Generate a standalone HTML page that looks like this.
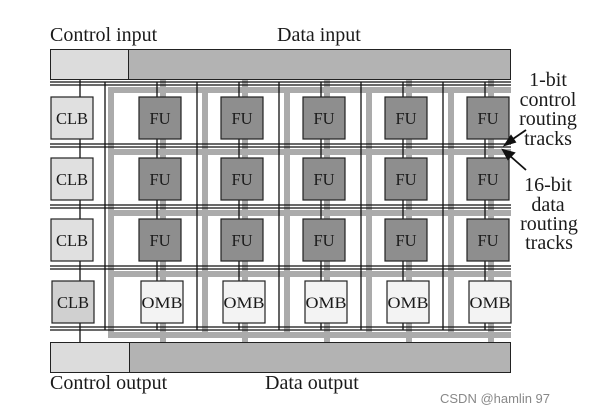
<!DOCTYPE html>
<html><head><style>body{margin:0;background:#fff}svg{display:block}text{font-family:"Liberation Serif",serif;fill:#1a1a1a}</style></head>
<body>
<svg width="600" height="414" viewBox="0 0 600 414">
<g fill="#ababab">
<rect x="108" y="87" width="403" height="6"/><rect x="108" y="149" width="403" height="6"/><rect x="108" y="210" width="403" height="6"/><rect x="108" y="271" width="403" height="6"/><rect x="108" y="332" width="403" height="6"/>
<rect x="108" y="87" width="6" height="251"/><rect x="202" y="87" width="6" height="251"/><rect x="284" y="87" width="6" height="251"/><rect x="366" y="87" width="6" height="251"/><rect x="448" y="87" width="6" height="251"/>
<rect x="160" y="79" width="6" height="264"/><rect x="242" y="79" width="6" height="264"/><rect x="324" y="79" width="6" height="264"/><rect x="406" y="79" width="6" height="264"/><rect x="488" y="79" width="6" height="264"/>
</g>
<g stroke="#111" stroke-width="1.3">
<line x1="50" y1="82" x2="511" y2="82"/><line x1="50" y1="85" x2="511" y2="85"/>
<line x1="50" y1="144" x2="511" y2="144"/><line x1="50" y1="147" x2="511" y2="147"/>
<line x1="50" y1="205" x2="511" y2="205"/><line x1="50" y1="208" x2="511" y2="208"/>
<line x1="50" y1="266" x2="511" y2="266"/><line x1="50" y1="269" x2="511" y2="269"/>
<line x1="50" y1="327" x2="511" y2="327"/><line x1="50" y1="330" x2="511" y2="330"/>
<line x1="105" y1="82" x2="105" y2="330"/><line x1="197" y1="82" x2="197" y2="330"/><line x1="279" y1="82" x2="279" y2="330"/><line x1="361" y1="82" x2="361" y2="330"/><line x1="443" y1="82" x2="443" y2="330"/>
<line x1="157" y1="82" x2="157" y2="330"/><line x1="239" y1="82" x2="239" y2="330"/><line x1="321" y1="82" x2="321" y2="330"/><line x1="403" y1="82" x2="403" y2="330"/><line x1="485" y1="82" x2="485" y2="330"/>
<line x1="80" y1="79" x2="80" y2="343"/>
</g>
<g stroke="#222" stroke-width="1">
<rect x="50.5" y="49.5" width="78" height="30" fill="#dcdcdc"/><rect x="128.5" y="49.5" width="382" height="30" fill="#b3b3b3"/>
<rect x="50.5" y="342.5" width="79" height="30" fill="#dcdcdc"/><rect x="129.5" y="342.5" width="381" height="30" fill="#b3b3b3"/>
</g>
<g stroke="#222" stroke-width="1.2">
<g fill="#e0e0e0"><rect x="51" y="97" width="42" height="42"/><rect x="51" y="158" width="42" height="42"/><rect x="51" y="219" width="42" height="42"/></g>
<rect x="52" y="281" width="42" height="42" fill="#d0d0d0"/>
<g fill="#8e8e8e">
<rect x="139" y="97" width="42" height="42"/><rect x="221" y="97" width="42" height="42"/><rect x="303" y="97" width="42" height="42"/><rect x="385" y="97" width="42" height="42"/><rect x="467" y="97" width="42" height="42"/>
<rect x="139" y="158" width="42" height="42"/><rect x="221" y="158" width="42" height="42"/><rect x="303" y="158" width="42" height="42"/><rect x="385" y="158" width="42" height="42"/><rect x="467" y="158" width="42" height="42"/>
<rect x="139" y="219" width="42" height="42"/><rect x="221" y="219" width="42" height="42"/><rect x="303" y="219" width="42" height="42"/><rect x="385" y="219" width="42" height="42"/><rect x="467" y="219" width="42" height="42"/>
</g>
<g fill="#f3f3f3">
<rect x="141" y="281" width="42" height="42"/><rect x="223" y="281" width="42" height="42"/><rect x="305" y="281" width="42" height="42"/><rect x="387" y="281" width="42" height="42"/><rect x="469" y="281" width="42" height="42"/>
</g>
</g>
<g font-size="16.5" text-anchor="middle">
<text x="72" y="124">CLB</text><text x="72" y="185">CLB</text><text x="72" y="246">CLB</text><text x="73" y="308">CLB</text>
<text x="160" y="124">FU</text><text x="242" y="124">FU</text><text x="324" y="124">FU</text><text x="406" y="124">FU</text><text x="488" y="124">FU</text>
<text x="160" y="185">FU</text><text x="242" y="185">FU</text><text x="324" y="185">FU</text><text x="406" y="185">FU</text><text x="488" y="185">FU</text>
<text x="160" y="246">FU</text><text x="242" y="246">FU</text><text x="324" y="246">FU</text><text x="406" y="246">FU</text><text x="488" y="246">FU</text>
</g>
<g font-size="16" text-anchor="middle">
<text x="162" y="308" textLength="41" lengthAdjust="spacingAndGlyphs">OMB</text><text x="244" y="308" textLength="41" lengthAdjust="spacingAndGlyphs">OMB</text><text x="326" y="308" textLength="41" lengthAdjust="spacingAndGlyphs">OMB</text><text x="408" y="308" textLength="41" lengthAdjust="spacingAndGlyphs">OMB</text><text x="490" y="308" textLength="41" lengthAdjust="spacingAndGlyphs">OMB</text>
</g>
<g font-size="20">
<text x="50" y="41">Control input</text><text x="277" y="41">Data input</text>
<text x="50" y="389">Control output</text><text x="265" y="389">Data output</text>
</g>
<g font-size="20" text-anchor="middle">
<text x="548" y="86">1-bit</text><text x="548" y="106">control</text><text x="548" y="125">routing</text><text x="548" y="145">tracks</text>
<text x="548" y="191">16-bit</text><text x="548" y="211">data</text><text x="549" y="230">routing</text><text x="549" y="249">tracks</text>
</g>
<g stroke="#111" stroke-width="1.8" fill="#111">
<line x1="526" y1="130" x2="510" y2="141"/><polygon points="505,145 511,136 515,142"/>
<line x1="526" y1="170" x2="509" y2="155"/><polygon points="503,150 514,153 508,159"/>
</g>
<text x="440" y="403" font-size="13" style="font-family:'Liberation Sans',sans-serif;fill:#888">CSDN @hamlin 97</text>
</svg>
</body></html>
